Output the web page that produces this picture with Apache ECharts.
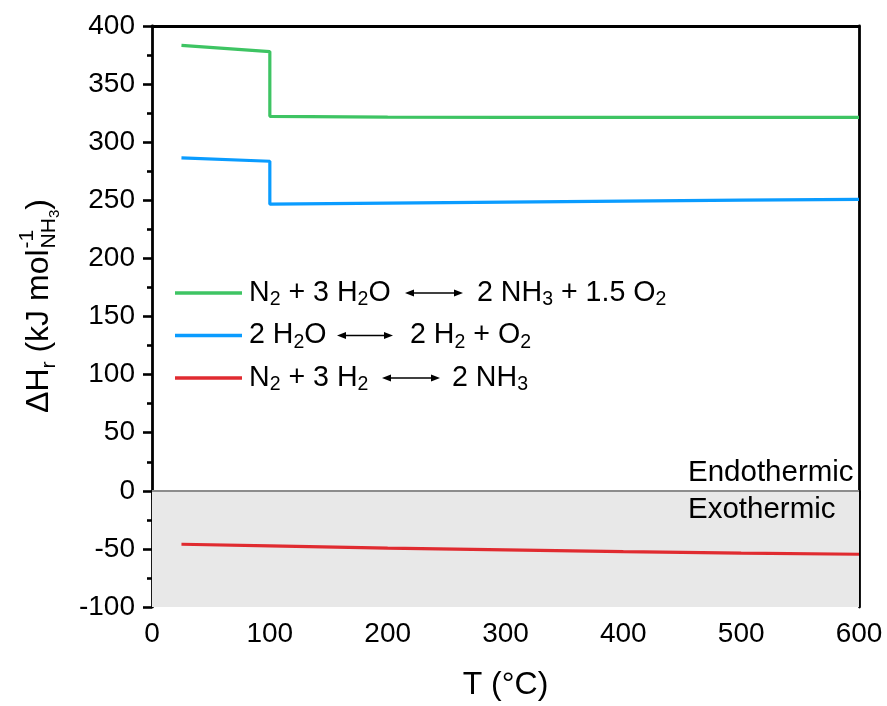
<!DOCTYPE html>
<html>
<head>
<meta charset="utf-8">
<script src="https://cdn.jsdelivr.net/npm/echarts@6/dist/echarts.min.js"></script>
<style>html,body{margin:0;padding:0;background:#fff}#c{width:887px;height:706px}</style>
</head>
<body>
<div id="c"></div>
<script>
// ---- data ----
const xTicks = [0, 100, 200, 300, 400, 500, 600];
const yTicks = [-100, -50, 0, 50, 100, 150, 200, 250, 300, 350, 400];
const greenT = [25, 100, 100, 200, 300, 400, 500, 600];
const greenH = [383.4, 378, 322.3, 321.6, 321.4, 321.3, 321.3, 321.4];
const blueT = [25, 100, 100, 200, 300, 400, 500, 600];
const blueH = [286.5, 283.6, 246.7, 247.5, 248.4, 249.3, 250.1, 250.8];
const redT = [25, 100, 200, 300, 400, 500, 600];
const redH = [-46.0, -47.4, -49.3, -50.9, -52.4, -53.6, -54.6];

const FONT = '"Liberation Sans", Arial, Helvetica, sans-serif';
const cv = document.createElement('canvas').getContext('2d');
function tw(t, s) { cv.font = s + 'px "Liberation Sans", Arial, sans-serif'; return cv.measureText(t).width; }

const chart = echarts.init(document.getElementById('c'), null, {renderer: 'canvas'});

function pairs(xs, ys) { return xs.map((x, i) => [x, ys[i]]); }

const axisLineStyle = {color: '#000', width: 2.8};

// ---- legend (graphic) ----
const MAIN = 28.6, SUB = 19.5;
const rich = {
  m: {fontSize: MAIN, fontFamily: FONT, color: '#000', lineHeight: 34},
  s: {fontSize: SUB, fontFamily: FONT, color: '#000', lineHeight: 12, verticalAlign: 'bottom'}
};
function rt(x, y, text) {
  return {type: 'text', x: x, y: y, z: 100, style: {text: text, rich: rich, align: 'left', verticalAlign: 'middle', fill: '#000'}};
}
function arrow(x1, x2, y) {
  const h = 9, w = 3.6;
  return [
    {type: 'line', z: 100, shape: {x1: x1 + h - 1, y1: y, x2: x2 - h + 1, y2: y}, style: {stroke: '#000', lineWidth: 1.3}},
    {type: 'polygon', z: 100, shape: {points: [[x1, y], [x1 + h, y - w], [x1 + h, y + w]]}, style: {fill: '#000'}},
    {type: 'polygon', z: 100, shape: {points: [[x2, y], [x2 - h, y - w], [x2 - h, y + w]]}, style: {fill: '#000'}}
  ];
}
function lline(y, color) {
  return {type: 'line', z: 100, shape: {x1: 175, y1: y, x2: 242, y2: y}, style: {stroke: color, lineWidth: 3.4}};
}
const GREEN = '#3ec463', BLUE = '#0a9cff', RED = '#e02b30';
const legend = [
  lline(293, GREEN), rt(249, 293, '{m|N}{s|2}{m| + 3 H}{s|2}{m|O}'), ...arrow(405, 463, 293), rt(477, 293, '{m|2 NH}{s|3}{m| + 1.5 O}{s|2}'),
  lline(335.5, BLUE), rt(249, 335.5, '{m|2 H}{s|2}{m|O}'), ...arrow(337, 393, 335.5), rt(410, 335.5, '{m|2 H}{s|2}{m| + O}{s|2}'),
  lline(378, RED), rt(249, 378, '{m|N}{s|2}{m| + 3 H}{s|2}'), ...arrow(382, 440, 378), rt(452, 378, '{m|2 NH}{s|3}')
];

// ---- y axis title (rotated group) ----
const YT = 32, YS = 21, YSS = 15;
const parts = [];
let px = 0;
function addT(t, size, dy) { parts.push({type: 'text', x: px, y: dy, style: {text: t, fontSize: size, fontFamily: FONT, fill: '#000', align: 'left', verticalAlign: 'middle'}}); px += tw(t, size); }
addT('ΔH', YT, 0);
addT('r', YS, 10);
addT(' (kJ mol', YT, 0);
const startStack = px + 1;
px = startStack; addT('-1', YS, -12); const endSup = px;
px = startStack; addT('NH', YS, 10); addT('3', YSS, 16); const endSub = px;
px = Math.max(endSup, endSub);
addT(')', YT, 0);
const total = px;
parts.forEach(p => { p.x -= total / 2; });
const yTitle = {type: 'group', x: 39, y: 306, rotation: Math.PI / 2, z: 100, children: parts};

const option = {
  animation: false,
  backgroundColor: '#fff',
  grid: {left: 152, right: 28, top: 26, bottom: 97, containLabel: false},
  xAxis: [{
    type: 'value', min: 0, max: 600, interval: 100,
    name: 'T (°C)', nameLocation: 'middle', nameGap: 62,
    nameTextStyle: {fontSize: 32, fontFamily: FONT, color: '#000'},
    axisLine: {show: true, lineStyle: axisLineStyle},
    axisTick: {show: true, length: 9, lineStyle: {color: '#000', width: 2.6}},
    minorTick: {show: true, splitNumber: 2, length: 5, lineStyle: {color: '#000', width: 2.6}},
    axisLabel: {fontSize: 28, fontFamily: FONT, color: '#000', margin: 13, formatter: v => xTicks.includes(v) ? String(v) : ''},
    splitLine: {show: false}
  }, {
    type: 'value', position: 'top', min: 0, max: 600,
    axisLine: {show: true, onZero: false, lineStyle: axisLineStyle},
    axisTick: {show: false}, axisLabel: {show: false}, splitLine: {show: false}
  }],
  yAxis: [{
    type: 'value', min: -100, max: 400, interval: 50,
    axisLine: {show: true, onZero: false, lineStyle: axisLineStyle},
    axisTick: {show: true, length: 9, lineStyle: {color: '#000', width: 2.6}},
    minorTick: {show: true, splitNumber: 2, length: 5, lineStyle: {color: '#000', width: 2.6}},
    axisLabel: {fontSize: 28, fontFamily: FONT, color: '#000', margin: 17, formatter: v => yTicks.includes(v) ? String(v) : ''},
    splitLine: {show: false}
  }, {
    type: 'value', position: 'right', min: -100, max: 400,
    axisLine: {show: true, onZero: false, lineStyle: axisLineStyle},
    axisTick: {show: false}, axisLabel: {show: false}, splitLine: {show: false}
  }],
  series: [
    {
      type: 'line', name: 'N2 + 3 H2 ↔ 2 NH3', data: pairs(redT, redH), showSymbol: false, symbol: 'none',
      lineStyle: {color: RED, width: 3.2}, z: 5,
      markArea: {silent: true, itemStyle: {color: '#e8e8e8'}, data: [[{yAxis: -100}, {yAxis: 0}]], z: 1},
      markLine: {silent: true, symbol: 'none', label: {show: false}, lineStyle: {color: '#8c8c8c', width: 2, type: 'solid'}, data: [{yAxis: 0}]}
    },
    {type: 'line', name: '2 H2O ↔ 2 H2 + O2', data: pairs(blueT, blueH), showSymbol: false, symbol: 'none', lineStyle: {color: BLUE, width: 3.2}, z: 5},
    {type: 'line', name: 'N2 + 3 H2O ↔ 2 NH3 + 1.5 O2', data: pairs(greenT, greenH), showSymbol: false, symbol: 'none', lineStyle: {color: GREEN, width: 3.2}, z: 5}
  ],
  graphic: [
    ...legend,
    yTitle,
    {type: 'text', x: 688, y: 473, z: 100, style: {text: 'Endothermic', fontSize: 29.5, fontFamily: FONT, fill: '#000', align: 'left', verticalAlign: 'middle'}},
    {type: 'text', x: 688, y: 510, z: 100, style: {text: 'Exothermic', fontSize: 29.5, fontFamily: FONT, fill: '#000', align: 'left', verticalAlign: 'middle'}}
  ]
};
chart.setOption(option);
</script>
</body>
</html>
